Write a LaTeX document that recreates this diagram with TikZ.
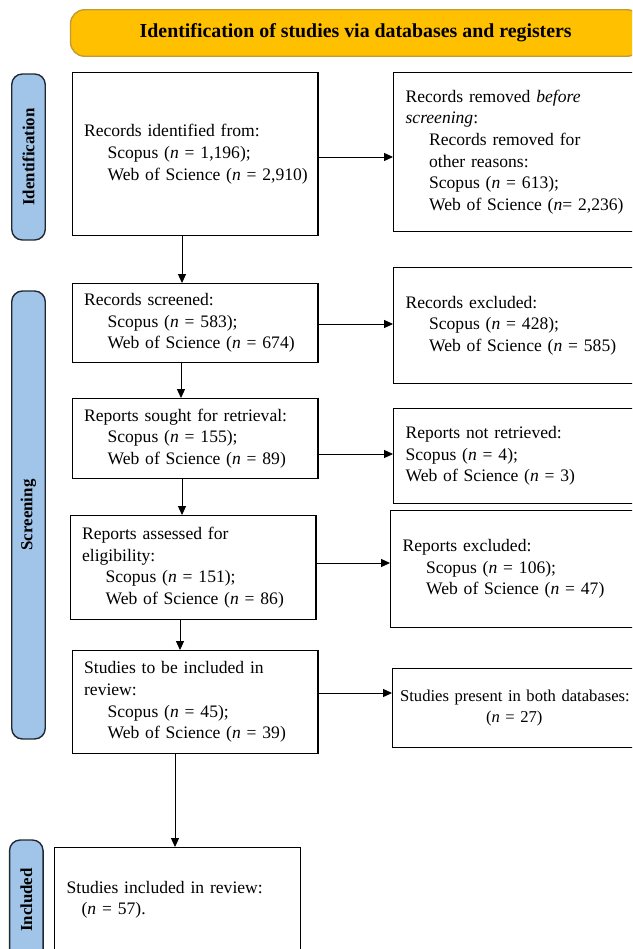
\documentclass[tikz,border=0pt]{standalone}
\usepackage{fontspec}
\setmainfont{Liberation Serif}
\usepackage{xcolor}
\usepackage{tikz}
\usetikzlibrary{arrows.meta}

\definecolor{hdrgold}{RGB}{255,192,0}
\definecolor{hdredge}{RGB}{196,154,52}
\definecolor{phaseblue}{RGB}{160,197,232}
\definecolor{phaseedge}{RGB}{34,40,49}

\newcommand{\ind}{\hspace*{0.47cm}}

\begin{document}
\begin{tikzpicture}[x=0.02cm, y=-0.02cm,
    box/.style={draw, line width=0.7pt, anchor=north west, align=left, inner xsep=0.24cm,
                font=\fontsize{10}{12.3}\selectfont},
    lbox/.style={box, minimum width=4.92cm, text width=4.44cm},
    rbox/.style={box, minimum width=5.3cm, text width=4.82cm},
    phase/.style={draw=phaseedge, fill=phaseblue, line width=0.8pt, rounded corners=6pt,
                  rotate=90, minimum height=0.67cm, font=\fontsize{9.6}{11}\selectfont\bfseries},
    arr/.style={line width=0.5pt, -{Triangle[length=5pt,width=4.5pt]}}]
            \useasboundingbox (0,0) rectangle (632,949);
            \clip (0,0) rectangle (632,949);

            \node[draw=hdredge, fill=hdrgold, line width=0.8pt, rounded corners=8pt,
                  minimum width=11.41cm, minimum height=0.93cm,
                  font=\fontsize{11.3}{13}\selectfont\bfseries] (head) at (355.7,33)
                  {Identification of studies via databases and registers};

            \node[phase, minimum width=3.32cm] (pident) at (28.5,157) {Identification};
            \node[phase, minimum width=8.96cm] (pscreen) at (28.5,515) {Screening};
            \node[phase, minimum width=2.4cm] (pincl) at (26.3,900) {Included};

            \node[lbox, minimum height=3.26cm] (ident) at (71.5,72)
                {Records identified from:\\ \ind Scopus (\textit{n} = 1,196);\\ \ind\mbox{Web of Science (\textit{n} = 2,910)}};
            \node[rbox, minimum height=3.18cm] (removed) at (393,72)
                {Records removed \textit{before}\\ \textit{screening}:\\ \ind Records removed for\\ \ind other reasons:\\ \ind Scopus (\textit{n} = 613);\\ \ind\mbox{Web of Science (\textit{n}= 2,236)}};
            \node[lbox, minimum height=1.58cm] (screened) at (71.5,283)
                {Records screened:\\ \ind Scopus (\textit{n} = 583);\\ \ind Web of Science (\textit{n} = 674)};
            \node[rbox, minimum height=2.32cm] (excluded) at (393,267)
                {Records excluded:\\ \ind Scopus (\textit{n} = 428);\\ \ind Web of Science (\textit{n} = 585)};
            \node[lbox, minimum height=1.6cm] (sought) at (71.5,398)
                {Reports sought for retrieval:\\ \ind Scopus (\textit{n} = 155);\\ \ind Web of Science (\textit{n} = 89)};
            \node[rbox, minimum height=1.9cm] (notret) at (393,408)
                {Reports not retrieved:\\ Scopus (\textit{n} = 4);\\ Web of Science (\textit{n} = 3)};
            \node[lbox, minimum height=2.08cm] (assessed) at (69.5,515)
                {Reports assessed for\\ eligibility:\\ \ind Scopus (\textit{n} = 151);\\ \ind Web of Science (\textit{n} = 86)};
            \node[rbox, minimum height=2.34cm] (repexcl) at (390,510)
                {Reports excluded:\\ \ind Scopus (\textit{n} = 106);\\ \ind Web of Science (\textit{n} = 47)};
            \node[lbox, minimum height=2.06cm] (tobeinc) at (71.5,650)
                {Studies to be included in\\ review:\\ \ind Scopus (\textit{n} = 45);\\ \ind Web of Science (\textit{n} = 39)};
            \node[rbox, minimum height=1.58cm, inner xsep=0.15cm, text width=5cm,
                  font=\fontsize{9.45}{12.3}\selectfont] (both) at (392,668)
                {\mbox{Studies present in both databases:}\\ \hspace*{1.72cm}(\textit{n} = 27)};
            \node[lbox, minimum height=2.08cm] (included) at (54,847)
                {Studies included in review:\\ \hspace*{0.3cm}(\textit{n} = 57).};

            \draw[arr] (ident.east |- 0,157) -- (removed.west |- 0,157); % identified -> removed
            \draw[arr] (screened.east |- 0,324) -- (excluded.west |- 0,324); % screened -> excluded
            \draw[arr] (sought.east |- 0,454) -- (notret.west |- 0,454); % sought -> not retrieved
            \draw[arr] (assessed.east |- 0,563) -- (repexcl.west |- 0,563); % assessed -> excluded
            \draw[arr] (tobeinc.east |- 0,693) -- (both.west |- 0,693); % to be included -> both

            \draw[arr] (ident.south -| 182,0) -- (screened.north -| 182,0); % identified -> screened
            \draw[arr] (screened.south -| 181,0) -- (sought.north -| 181,0); % screened -> sought
            \draw[arr] (sought.south -| 182,0) -- (assessed.north -| 182,0); % sought -> assessed
            \draw[arr] (assessed.south -| 180,0) -- (tobeinc.north -| 180,0); % assessed -> to be included
            \draw[arr] (tobeinc.south -| 175,0) -- (included.north -| 175,0); % to be included -> included
        \end{tikzpicture}
\end{document}
